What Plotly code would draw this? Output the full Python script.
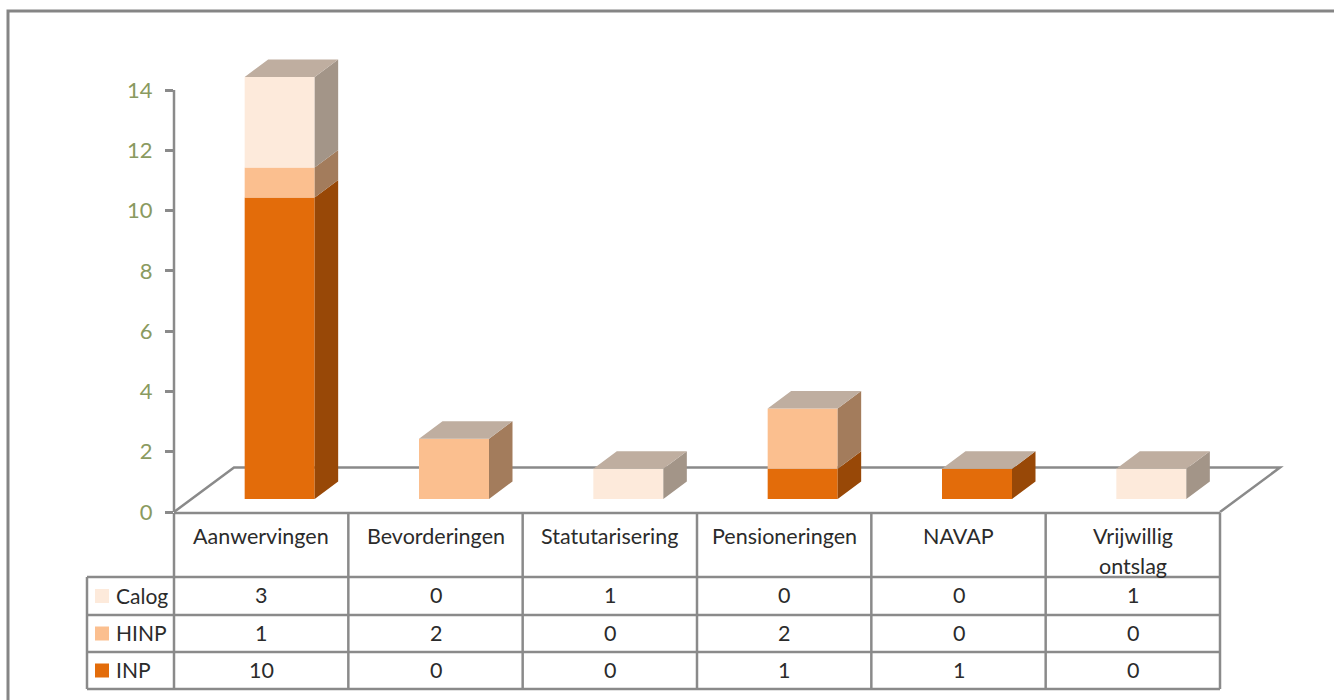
import plotly.graph_objects as go

categories = ["Aanwervingen", "Bevorderingen", "Statutarisering", "Pensioneringen", "NAVAP", "Vrijwillig<br>ontslag"]
inp = [10, 0, 0, 1, 1, 0]
hinp = [1, 2, 0, 2, 0, 0]
calog = [3, 0, 1, 0, 0, 1]
y_ticks = [0, 2, 4, 6, 8, 10, 12, 14]

W, H = 1334, 700
X0, X1 = 174, 1220          # plot area, px
Y0, Y14 = 512, 90
GRAY = "#8a8a8a"
TXT = "#2b2b2b"
FONT = "Lato"
TOP_COL = "#bfaea0"
Y_MAX = 16                  # axis range reaches above 14 so the bar tops fit

series = [  # stacked from the bottom
    ("INP", inp, "#e36c0a", "#984807"),
    ("HINP", hinp, "#fbbf8f", "#a37c5c"),
    ("Calog", calog, "#fdeadb", "#a39588"),
]

px_x = (X1 - X0) / 6        # px per category
px_y = (Y0 - Y14) / 14      # px per unit
bar_w = 70 / px_x
shift_x = 18.5 / px_x       # bar offset towards the back of the floor
lift = 13 / px_y
dep_x = 23.5 / px_x         # 3D depth of a bar
dep_y = 17.5 / px_y
floor_dx = 60 / px_x
floor_dy = 44.5 / px_y


def xp(px):
    return px / W


def yp(px):
    return 1 - px / H


fig = go.Figure()
n = len(categories)
cum = [0] * n
for name, vals, front, side in series:
    fig.add_trace(go.Bar(
        x=[i + shift_x for i in range(n)], y=vals, base=[c + lift for c in cum],
        width=bar_w, name=name, marker=dict(color=front, line=dict(width=0)),
        showlegend=False))
    xs, ys = [], []
    for i in range(n):
        if vals[i] == 0:
            continue
        r = i + shift_x + bar_w / 2
        b = cum[i] + lift
        t = b + vals[i]
        xs += [r, r + dep_x, r + dep_x, r, r, None]
        ys += [b, b + dep_y, t + dep_y, t, b, None]
    fig.add_trace(go.Scatter(
        x=xs, y=ys, mode="lines", fill="toself", fillcolor=side,
        line=dict(width=0, color=side), showlegend=False, hoverinfo="skip"))
    cum = [c + v for c, v in zip(cum, vals)]

# top faces of every stack
xs, ys = [], []
for i in range(n):
    l = i + shift_x - bar_w / 2
    r = l + bar_w
    t = cum[i] + lift
    xs += [l, r, r + dep_x, l + dep_x, l, None]
    ys += [t, t, t + dep_y, t + dep_y, t, None]
fig.add_trace(go.Scatter(
    x=xs, y=ys, mode="lines", fill="toself", fillcolor=TOP_COL,
    line=dict(width=0, color=TOP_COL), showlegend=False, hoverinfo="skip"))

line = dict(color=GRAY, width=2.5)
shapes = []
# outer frame (left and top edges are the only ones in view)
shapes.append(dict(type="path", xref="paper", yref="paper", layer="below",
                   line=dict(color="#858585", width=3),
                   path=f"M {xp(8)} 0 L {xp(8)} {yp(11)} L 1 {yp(11)}"))
# floor
shapes.append(dict(type="path", xref="paper", yref="paper", layer="below", line=line,
                   path=f"M {xp(X0)} {yp(Y0)} L {xp(X0 + floor_dx * px_x)} {yp(Y0 - floor_dy * px_y)} "
                        f"L {xp(X1 + floor_dx * px_x)} {yp(Y0 - floor_dy * px_y)} L {xp(X1)} {yp(Y0)}"))
# value axis line, stops at the last tick
shapes.append(dict(type="line", xref="paper", yref="y", x0=xp(X0), x1=xp(X0), y0=y_ticks[0], y1=y_ticks[-1], line=line))

# data table
row_y = [513, 577, 615, 652, 689]
col_x = [X0 + i * px_x for i in range(n + 1)]
LEG_X = 87
for k, y in enumerate(row_y):
    shapes.append(dict(type="line", xref="paper", yref="paper", x0=xp(X0 if k == 0 else LEG_X), x1=xp(X1),
                       y0=yp(y), y1=yp(y), line=line))
for c in col_x:
    shapes.append(dict(type="line", xref="paper", yref="paper", x0=xp(c), x1=xp(c),
                       y0=yp(row_y[0]), y1=yp(row_y[-1]), line=line))
shapes.append(dict(type="line", xref="paper", yref="paper", x0=xp(LEG_X), x1=xp(LEG_X),
                   y0=yp(row_y[1]), y1=yp(row_y[-1]), line=line))

annotations = []


def text(x, y, s, anchor="center", size=21.5):
    annotations.append(dict(xref="paper", yref="paper", x=xp(x), y=yp(y), text=s, showarrow=False,
                            xanchor=anchor, yanchor="middle", font=dict(family=FONT, size=size, color=TXT)))


for i, cat in enumerate(categories):
    cx = col_x[i] + px_x / 2
    parts = cat.split("<br>")
    for j, part in enumerate(parts):
        text(cx, 535.5 + j * 30, part)

for k, (name, vals, front, side) in enumerate(reversed(series)):
    cy = (row_y[k + 1] + row_y[k + 2]) / 2
    shapes.append(dict(type="rect", xref="paper", yref="paper", x0=xp(95), x1=xp(109), y0=yp(cy - 7), y1=yp(cy + 7),
                       fillcolor=front, line=dict(width=0)))
    text(113.5, cy - 1, name, anchor="left", size=21)
    for i, v in enumerate(vals):
        text(col_x[i] + px_x / 2, cy - 1, str(v))

fig.update_layout(
    width=W, height=H, autosize=False,
    margin=dict(l=0, r=0, t=0, b=0, autoexpand=False),
    paper_bgcolor="white", plot_bgcolor="rgba(0,0,0,0)",
    barmode="overlay", showlegend=False,
    shapes=shapes, annotations=annotations,
    xaxis=dict(domain=[xp(X0), xp(X1)], range=[-0.5, n - 0.5], visible=False, fixedrange=True),
    yaxis=dict(domain=[yp(Y0), yp(Y0 - Y_MAX * px_y)], range=[0, Y_MAX], tickvals=y_ticks, showgrid=False,
               zeroline=False, showline=False, ticks="outside", ticklen=8, tickwidth=2.5, tickcolor=GRAY,
               ticklabelstandoff=8, tickfont=dict(family=FONT, size=22, color="#8a9a60"), fixedrange=True),
)

fig.write_html("out.html", config=dict(displayModeBar=False),
               post_script="document.body.style.margin='0';document.body.style.overflow='hidden';")
